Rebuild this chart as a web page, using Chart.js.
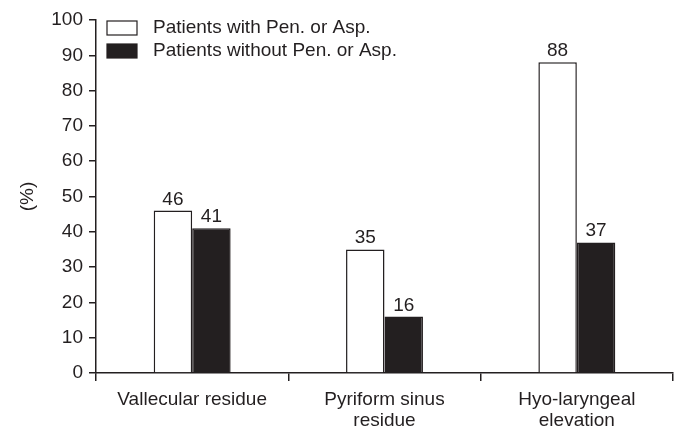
<!DOCTYPE html>
<html>
<head>
<meta charset="utf-8">
<script src="https://cdn.jsdelivr.net/npm/chart.js@4/dist/chart.umd.min.js"></script>
<style>
  html, body { margin: 0; padding: 0; background: #fff; }
  #wrap { width: 677px; height: 427px; }
</style>
</head>
<body>
<div id="wrap"><canvas id="chart"></canvas></div>
<script>
'use strict';

var categories = [['Vallecular residue'], ['Pyriform sinus', 'residue'], ['Hyo-laryngeal', 'elevation']];
var withPenAsp = [46, 35, 88];
var withoutPenAsp = [41, 16, 37];
var seriesNames = ['Patients with Pen. or Asp.', 'Patients without Pen. or Asp.'];
var yTicks = [0, 10, 20, 30, 40, 50, 60, 70, 80, 90, 100];

var ink = '#231f20';
var font = { family: 'Liberation Sans, Arial, sans-serif', size: 19, lineHeight: 1.07 };

// value labels above each bar
var valueLabels = {
    id: 'valueLabels',
    afterDatasetsDraw: function (chart) {
        var ctx = chart.ctx;
        ctx.save();
        ctx.fillStyle = ink;
        ctx.font = font.size + 'px ' + font.family;
        ctx.textAlign = 'center';
        ctx.textBaseline = 'alphabetic';
        chart.data.datasets.forEach(function (ds, i) {
            chart.getDatasetMeta(i).data.forEach(function (bar, j) {
                ctx.fillText(ds.data[j], bar.x, bar.y - 6);
            });
        });
        ctx.restore();
    }
};

// legend drawn inside the plot, top left
var insideLegend = {
    id: 'insideLegend',
    afterDraw: function (chart) {
        var ctx = chart.ctx;
        var area = chart.chartArea;
        ctx.save();
        ctx.font = font.size + 'px ' + font.family;
        ctx.textBaseline = 'middle';
        chart.data.datasets.forEach(function (ds, i) {
            var x = area.left + 11;
            var y = area.top + 8 + i * 23;
            ctx.fillStyle = ds.backgroundColor;
            ctx.fillRect(x, y - 7, 30, 14);
            ctx.strokeStyle = ink;
            ctx.lineWidth = 1.2;
            ctx.strokeRect(x, y - 7, 30, 14);
            ctx.fillStyle = ink;
            ctx.fillText(ds.label, x + 46, y);
        });
        ctx.restore();
    }
};

var ctx = document.getElementById('chart');
var chart = new Chart(ctx, {
    type: 'bar',
    data: {
        labels: categories,
        datasets: [{
            label: seriesNames[0],
            data: withPenAsp,
            backgroundColor: '#ffffff',
            borderColor: ink,
            borderWidth: 1.5,
            borderSkipped: 'bottom'
        }, {
            label: seriesNames[1],
            data: withoutPenAsp,
            backgroundColor: ink,
            borderColor: ink,
            borderWidth: 1.5,
            borderSkipped: 'bottom'
        }]
    },
    options: {
        responsive: true,
        maintainAspectRatio: false,
        animation: false,
        devicePixelRatio: 1,
        layout: { padding: { top: 20, right: 4, left: 18, bottom: 0 } },
        datasets: { bar: { categoryPercentage: 0.4, barPercentage: 1.0 } },
        plugins: {
            legend: { display: false },
            tooltip: { enabled: false }
        },
        scales: {
            x: {
                grid: { display: true, offset: true, drawOnChartArea: false, drawTicks: true, tickLength: 8, color: ink, lineWidth: 1.5 },
                border: { display: true, color: ink, width: 1.5 },
                ticks: { color: ink, font: font, padding: 9, maxRotation: 0 },
                afterFit: function (scale) { scale.height = 54; }
            },
            y: {
                min: 0,
                max: 100,
                afterBuildTicks: function (scale) {
                    scale.ticks = yTicks.map(function (v) { return { value: v }; });
                },
                grid: { display: true, drawOnChartArea: false, drawTicks: true, tickLength: 7, color: ink, lineWidth: 1.5 },
                border: { display: true, color: ink, width: 1.5 },
                ticks: { color: ink, font: font, padding: 6 },
                title: { display: true, text: '(%)', color: ink, font: font, padding: 0 },
                afterFit: function (scale) { scale.width = 78; }
            }
        }
    },
    plugins: [valueLabels, insideLegend]
});
</script>
</body>
</html>
